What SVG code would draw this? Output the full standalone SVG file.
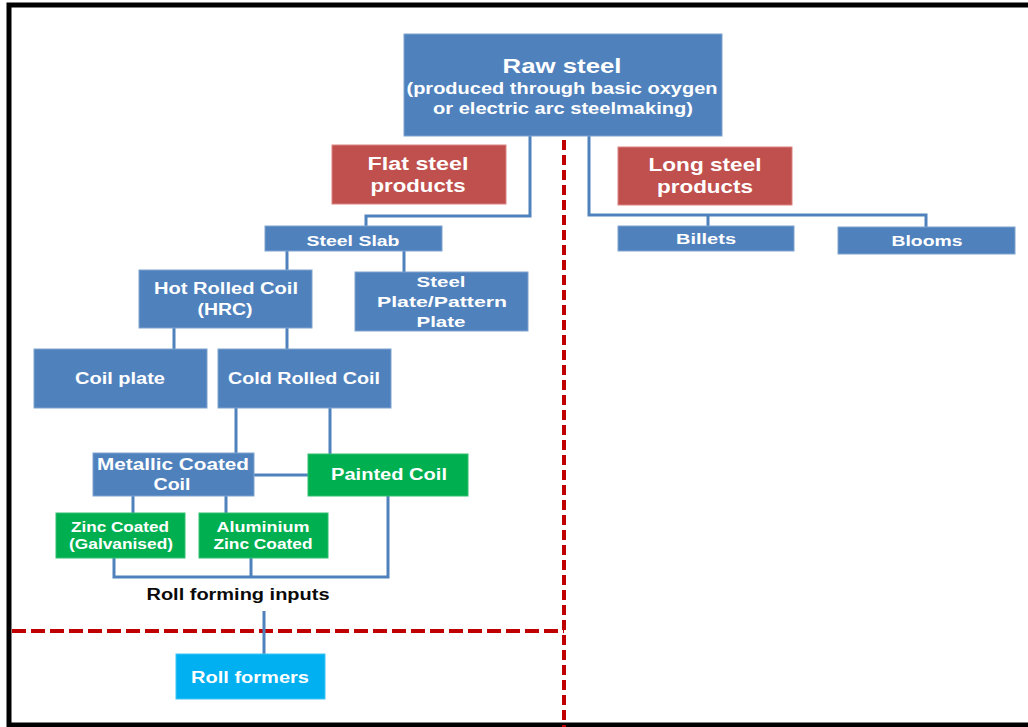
<svg xmlns="http://www.w3.org/2000/svg" width="1028" height="727" viewBox="0 0 1028 727">
<style>
.blue{fill:#4F81BD;stroke:#7FA3D0;stroke-width:1}
.red{fill:#C0504D;stroke:#D98482;stroke-width:1}
.green{fill:#00B050;stroke:#33C070;stroke-width:1}
.cyan{fill:#00B0F0;stroke:#40C4F4;stroke-width:1}
text{font-family:"Liberation Sans",Arial,sans-serif;font-weight:bold;fill:#FFFFFF;text-anchor:middle}
.t20{font-size:20px}
.t18{font-size:18px}
.t16{font-size:16px}
.t15{font-size:15px}
.t14{font-size:14px}
.dark{fill:#0a0a0a}
.conn{fill:none;stroke:#4F81BD;stroke-width:3}
.sep{fill:none;stroke:#C00000;stroke-width:4}
</style>
<rect x="0" y="0" width="1028" height="727" fill="#FFFFFF"/>
<rect x="9" y="5" width="1030" height="720" fill="none" stroke="#000000" stroke-width="5"/>
<g id="separators">
<line class="sep" x1="564" y1="140" x2="564" y2="727" stroke-dasharray="10 5"/>
<line class="sep" x1="12" y1="631" x2="564" y2="631" stroke-dasharray="14 5"/>
</g>
<g id="connectors">
<path class="conn" d="M530 136 V216 H366 V226"/>
<path class="conn" d="M589 136 V215 H926 V227"/>
<path class="conn" d="M708 215 V226"/>
<path class="conn" d="M404 251 V272"/>
<path class="conn" d="M287 251 V270"/>
<path class="conn" d="M174 328 V349"/>
<path class="conn" d="M287 328 V349"/>
<path class="conn" d="M236 408 V453"/>
<path class="conn" d="M330 408 V454"/>
<path class="conn" d="M237 475 H308"/>
<path class="conn" d="M133 496 V513"/>
<path class="conn" d="M226 496 V513"/>
<path class="conn" d="M114 558 V577 H388 V496"/>
<path class="conn" d="M251 558 V577"/>
<path class="conn" d="M264 611 V654"/>
</g>
<g id="raw-steel">
<rect class="blue" x="404" y="34" width="318" height="102"/>
<text class="t20" x="562" y="73" textLength="119" lengthAdjust="spacingAndGlyphs">Raw steel</text>
<text class="t16" x="562" y="94" textLength="311" lengthAdjust="spacingAndGlyphs">(produced through basic oxygen</text>
<text class="t16" x="563" y="114" textLength="260" lengthAdjust="spacingAndGlyphs">or electric arc steelmaking)</text>
</g>
<g id="flat-steel">
<rect class="red" x="332" y="145" width="174" height="59"/>
<text class="t18" x="418" y="170" textLength="101" lengthAdjust="spacingAndGlyphs">Flat steel</text>
<text class="t18" x="418" y="192" textLength="95" lengthAdjust="spacingAndGlyphs">products</text>
</g>
<g id="long-steel">
<rect class="red" x="618" y="147" width="174" height="58"/>
<text class="t18" x="705" y="171" textLength="113" lengthAdjust="spacingAndGlyphs">Long steel</text>
<text class="t18" x="705" y="193" textLength="96" lengthAdjust="spacingAndGlyphs">products</text>
</g>
<g id="billets">
<rect class="blue" x="618" y="226" width="176" height="25"/>
<text class="t15" x="706" y="244" textLength="60" lengthAdjust="spacingAndGlyphs">Billets</text>
</g>
<g id="blooms">
<rect class="blue" x="838" y="227" width="177" height="27"/>
<text class="t15" x="927" y="246" textLength="71" lengthAdjust="spacingAndGlyphs">Blooms</text>
</g>
<g id="steel-slab">
<rect class="blue" x="265" y="226" width="177" height="25"/>
<text class="t15" x="353" y="246" textLength="93" lengthAdjust="spacingAndGlyphs">Steel Slab</text>
</g>
<g id="steel-plate">
<rect class="blue" x="355" y="272" width="173" height="59"/>
<text class="t15" x="441" y="287" textLength="49" lengthAdjust="spacingAndGlyphs">Steel</text>
<text class="t15" x="442" y="307" textLength="130" lengthAdjust="spacingAndGlyphs">Plate/Pattern</text>
<text class="t15" x="441" y="327" textLength="49" lengthAdjust="spacingAndGlyphs">Plate</text>
</g>
<g id="hot-rolled-coil">
<rect class="blue" x="139" y="270" width="173" height="58"/>
<text class="t16" x="226" y="294" textLength="144" lengthAdjust="spacingAndGlyphs">Hot Rolled Coil</text>
<text class="t16" x="225" y="315" textLength="55" lengthAdjust="spacingAndGlyphs">(HRC)</text>
</g>
<g id="coil-plate">
<rect class="blue" x="34" y="349" width="173" height="59"/>
<text class="t16" x="120" y="384" textLength="90" lengthAdjust="spacingAndGlyphs">Coil plate</text>
</g>
<g id="cold-rolled-coil">
<rect class="blue" x="218" y="349" width="173" height="59"/>
<text class="t16" x="304" y="384" textLength="152" lengthAdjust="spacingAndGlyphs">Cold Rolled Coil</text>
</g>
<g id="metallic-coated-coil">
<rect class="blue" x="93" y="453" width="161" height="43"/>
<text class="t16" x="173" y="470" textLength="152" lengthAdjust="spacingAndGlyphs">Metallic Coated</text>
<text class="t16" x="172" y="490" textLength="37" lengthAdjust="spacingAndGlyphs">Coil</text>
</g>
<g id="painted-coil">
<rect class="green" x="308" y="454" width="160" height="42"/>
<text class="t16" x="389" y="480" textLength="116" lengthAdjust="spacingAndGlyphs">Painted Coil</text>
</g>
<g id="zinc-coated">
<rect class="green" x="56" y="513" width="129" height="45"/>
<text class="t14" x="120" y="532" textLength="98" lengthAdjust="spacingAndGlyphs">Zinc Coated</text>
<text class="t14" x="121" y="549" textLength="104" lengthAdjust="spacingAndGlyphs">(Galvanised)</text>
</g>
<g id="aluminium-zinc-coated">
<rect class="green" x="199" y="513" width="129" height="45"/>
<text class="t14" x="263" y="532" textLength="93" lengthAdjust="spacingAndGlyphs">Aluminium</text>
<text class="t14" x="263" y="549" textLength="99" lengthAdjust="spacingAndGlyphs">Zinc Coated</text>
</g>
<g id="roll-forming-inputs">
<text class="t16 dark" x="238" y="600" textLength="183" lengthAdjust="spacingAndGlyphs">Roll forming inputs</text>
</g>
<g id="roll-formers">
<rect class="cyan" x="176" y="654" width="149" height="45"/>
<text class="t16" x="250" y="683" textLength="118" lengthAdjust="spacingAndGlyphs">Roll formers</text>
</g>
</svg>
